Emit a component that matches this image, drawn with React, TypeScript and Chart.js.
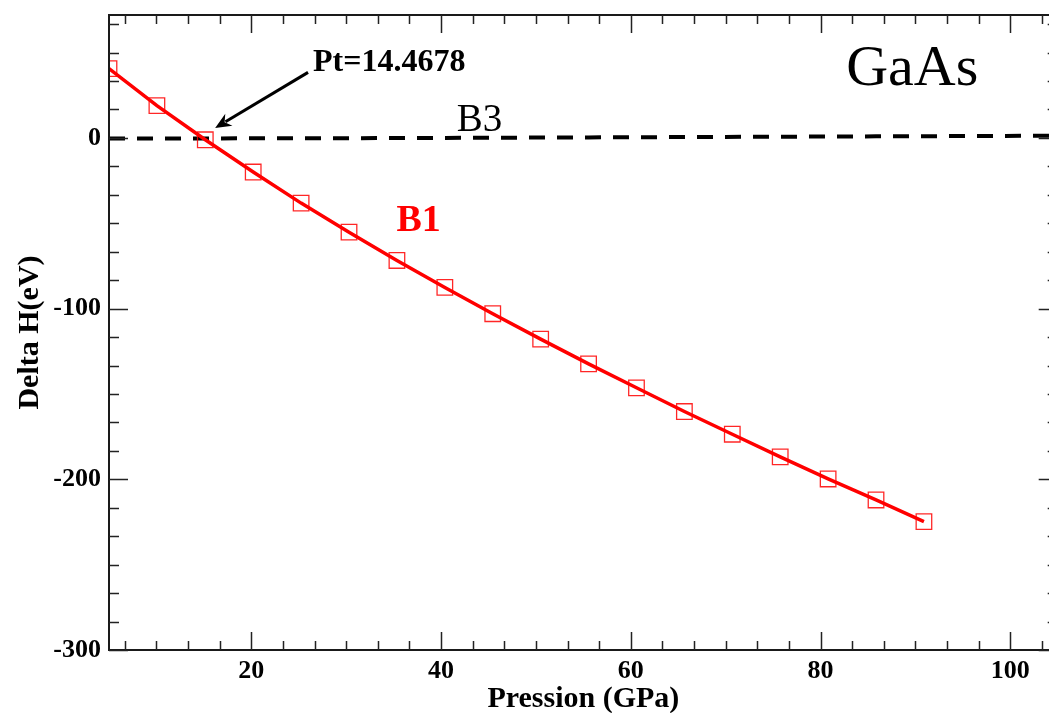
import React, { useEffect, useRef } from "react";
import { Chart, registerables } from "chart.js";

Chart.register(...registerables);

// Data
const pressureB1 = [5.0, 10.05, 15.15, 20.2, 25.25, 30.3, 35.35, 40.4, 45.45, 50.5, 55.55, 60.6, 65.65, 70.7, 75.75, 80.8, 85.85, 90.9];
const deltaHB1 = [40.6, 18.9, -1.1, -20.0, -38.2, -55.2, -71.8, -87.6, -103.0, -117.9, -132.4, -146.4, -160.3, -173.6, -186.9, -199.8, -212.1, -224.8];
const pressureB3 = [5.0, 15.15, 25.25, 35.35, 45.45, 55.55, 65.65, 75.75, 85.85, 95.95, 106.05];
const deltaHB3 = [-0.4, -0.3, -0.2, -0.1, 0.1, 0.3, 0.5, 0.7, 0.9, 1.1, 1.3];
const xTickLabels = [20, 40, 60, 80, 100];
const yTickLabels = [-300, -200, -100, 0];

const X_MIN = 5;
const X_MAX = 105;
const Y_MIN = -300;
const Y_MAX = 72;
const X_MINOR_STEP = 20 / 6;
const Y_MINOR_STEP = 100 / 6;

const SERIF = "'Liberation Serif', 'Times New Roman', serif";

const framePlugin = {
  id: "frameAndNotes",
  afterDraw(chart: any) {
    const { ctx, chartArea: a, scales } = chart;
    const xs = scales.x;
    const ys = scales.y;
    ctx.save();

    // frame
    ctx.strokeStyle = "#1a1a1a";
    ctx.lineWidth = 2;
    ctx.beginPath();
    ctx.moveTo(a.left, a.top);
    ctx.lineTo(a.left, a.bottom);
    ctx.lineTo(a.right, a.bottom);
    ctx.lineTo(a.right, a.top);
    ctx.closePath();
    ctx.stroke();

    // ticks (inward)
    ctx.lineWidth = 1.5;
    ctx.strokeStyle = "#222";
    const isMajor = (v: number, arr: number[]) => arr.some((m) => Math.abs(m - v) < 1e-6);
    ctx.beginPath();
    for (let k = Math.ceil(X_MIN / X_MINOR_STEP - 1e-9); k * X_MINOR_STEP <= X_MAX + 1e-9; k++) {
      const v = k * X_MINOR_STEP;
      const px = Math.round(xs.getPixelForValue(v)) + 0.5;
      const len = isMajor(v, xTickLabels) ? 18 : 9;
      ctx.moveTo(px, a.bottom);
      ctx.lineTo(px, a.bottom - len);
      ctx.moveTo(px, a.top);
      ctx.lineTo(px, a.top + len);
    }
    for (let k = Math.ceil(Y_MIN / Y_MINOR_STEP - 1e-9); k * Y_MINOR_STEP <= Y_MAX + 1e-9; k++) {
      const v = k * Y_MINOR_STEP;
      const py = Math.round(ys.getPixelForValue(v)) + 0.5;
      const len = isMajor(v, yTickLabels) ? 19 : 10;
      ctx.moveTo(a.left, py);
      ctx.lineTo(a.left + len, py);
      ctx.moveTo(a.right, py);
      ctx.lineTo(a.right - len, py);
    }
    ctx.stroke();

    // texts
    ctx.textAlign = "left";
    ctx.textBaseline = "alphabetic";
    ctx.fillStyle = "#000";
    ctx.font = `normal 58px ${SERIF}`;
    ctx.fillText("GaAs", xs.getPixelForValue(82.7), ys.getPixelForValue(31.2));

    ctx.font = `bold 32px ${SERIF}`;
    ctx.fillText("Pt=14.4678", xs.getPixelForValue(26.5), ys.getPixelForValue(39.0));

    ctx.font = `normal 39px ${SERIF}`;
    ctx.fillText("B3", xs.getPixelForValue(41.66), ys.getPixelForValue(3.8));

    ctx.fillStyle = "#ff0000";
    ctx.font = `bold 38px ${SERIF}`;
    ctx.fillText("B1", xs.getPixelForValue(35.3), ys.getPixelForValue(-54.8));

    // arrow
    const x0 = xs.getPixelForValue(25.98);
    const y0 = ys.getPixelForValue(38.4);
    const x1 = xs.getPixelForValue(16.19);
    const y1 = ys.getPixelForValue(5.8);
    const ang = Math.atan2(y1 - y0, x1 - x0);
    const headLen = 16;
    const headW = 7;
    ctx.strokeStyle = "#000";
    ctx.fillStyle = "#000";
    ctx.lineWidth = 3;
    ctx.beginPath();
    ctx.moveTo(x0, y0);
    ctx.lineTo(x1 - Math.cos(ang) * (headLen - 4), y1 - Math.sin(ang) * (headLen - 4));
    ctx.stroke();
    ctx.beginPath();
    const bx = x1 - Math.cos(ang) * headLen;
    const by = y1 - Math.sin(ang) * headLen;
    ctx.moveTo(x1, y1);
    ctx.lineTo(bx - Math.sin(ang) * headW, by + Math.cos(ang) * headW);
    ctx.lineTo(x1 - Math.cos(ang) * (headLen - 5), y1 - Math.sin(ang) * (headLen - 5));
    ctx.lineTo(bx + Math.sin(ang) * headW, by - Math.cos(ang) * headW);
    ctx.closePath();
    ctx.fill();

    ctx.restore();
  },
};

export default function App() {
  const canvasRef = useRef<HTMLCanvasElement | null>(null);

  useEffect(() => {
    if (!canvasRef.current) return;
    const b1 = pressureB1.map((p, i) => ({ x: p, y: deltaHB1[i] }));
    const b3 = pressureB3.map((p, i) => ({ x: p, y: deltaHB3[i] }));
    const chart = new Chart(canvasRef.current, {
      type: "line",
      data: {
        datasets: [
          {
            label: "B1",
            data: b1,
            borderColor: "#ff0000",
            borderWidth: 3.5,
            pointStyle: "rect",
            pointRadius: 11,
            pointBorderWidth: 1.3,
            pointBorderColor: "rgba(255,0,0,0.85)",
            pointBackgroundColor: "rgba(0,0,0,0)",
            tension: 0,
          },
          {
            label: "B3",
            data: b3,
            borderColor: "#000",
            borderWidth: 4,
            borderDash: [16, 12],
            pointRadius: 0,
            tension: 0,
          },
        ],
      },
      options: {
        animation: false,
        responsive: false,
        maintainAspectRatio: false,
        events: [],
        layout: { padding: { top: 15, right: 11, left: 0, bottom: 0 } },
        plugins: {
          legend: { display: false },
          tooltip: { enabled: false },
        },
        scales: {
          x: {
            type: "linear",
            min: X_MIN,
            max: X_MAX,
            afterBuildTicks: (s: any) => {
              s.ticks = xTickLabels.map((v) => ({ value: v }));
            },
            afterFit: (s: any) => {
              s.height = 63;
              s.paddingLeft = 0;
              s.paddingRight = 0;
            },
            grid: { display: false, drawTicks: false },
            border: { display: false },
            ticks: {
              autoSkip: false,
              maxRotation: 0,
              padding: 6,
              color: "#000",
              font: { family: SERIF, size: 26, weight: "bold" },
            },
            title: {
              display: true,
              text: "Pression (GPa)",
              color: "#000",
              padding: 0,
              font: { family: SERIF, size: 30, weight: "bold", lineHeight: 0.933 },
            },
          },
          y: {
            type: "linear",
            min: Y_MIN,
            max: Y_MAX,
            afterBuildTicks: (s: any) => {
              s.ticks = yTickLabels.map((v) => ({ value: v }));
            },
            afterFit: (s: any) => {
              s.width = 109;
              s.paddingTop = 0;
              s.paddingBottom = 0;
            },
            grid: { display: false, drawTicks: false },
            border: { display: false },
            ticks: {
              autoSkip: false,
              padding: 8,
              color: "#000",
              font: { family: SERIF, size: 26, weight: "bold" },
            },
            title: {
              display: true,
              text: "Delta H(eV)",
              color: "#000",
              padding: { top: 16, bottom: 0 },
              font: { family: SERIF, size: 30, weight: "bold", lineHeight: 0.933 },
            },
          },
        },
      },
      plugins: [framePlugin],
    } as any);
    return () => chart.destroy();
  }, []);

  return (
    <div
      style={{
        position: "fixed",
        left: 0,
        top: 0,
        width: 1049,
        height: 713,
        overflow: "hidden",
        background: "#fff",
      }}
    >
      <canvas ref={canvasRef} width={1070} height={713} style={{ display: "block" }} />
    </div>
  );
}
